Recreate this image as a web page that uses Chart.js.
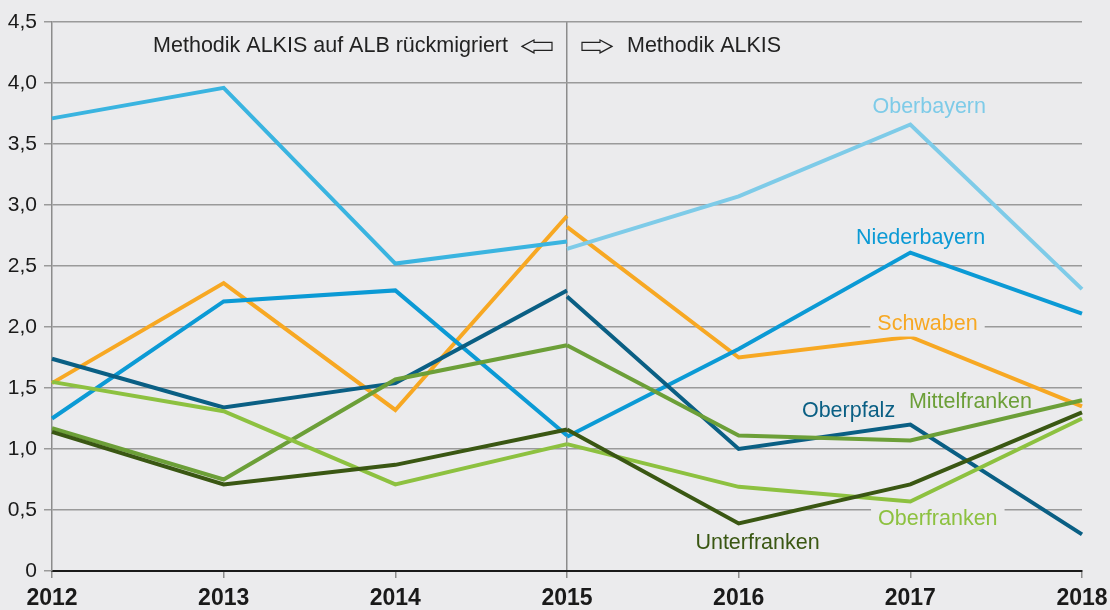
<!DOCTYPE html>
<html>
  <head>
    <meta charset="utf-8">
    <style type="text/css">
      html, body { margin: 0; padding: 0; background: #ebebed; }
      .chart-container { width: 1110px; height: 610px; }
    </style>
  </head>
  <body>
    <script src="https://cdn.jsdelivr.net/npm/chart.js@4.4.1/dist/chart.umd.min.js"></script>

    <div class="chart-container">
      <canvas id="myChart" width="1110" height="610"></canvas>
    </div>

    <script>
      /* datas */
      const years = ['2012', '2013', '2014', '2015', '2016', '2017', '2018'];
      const yTicks = [0, 0.5, 1, 1.5, 2, 2.5, 3, 3.5, 4, 4.5];

      // 2012-2015: Methodik ALKIS auf ALB rückmigriert, 2015-2018: Methodik ALKIS
      const oberbayernOld    = [3.71, 3.96, 2.52, 2.70, null, null, null];
      const oberbayernNew    = [null, null, null, 2.64, 3.07, 3.66, 2.31];
      const niederbayernOld  = [1.25, 2.21, 2.30, 1.11, null, null, null];
      const niederbayernNew  = [null, null, null, 1.10, 1.82, 2.61, 2.11];
      const schwabenOld      = [1.54, 2.36, 1.32, 2.91, null, null, null];
      const schwabenNew      = [null, null, null, 2.82, 1.75, 1.92, 1.35];
      const oberpfalzOld     = [1.74, 1.34, 1.54, 2.30, null, null, null];
      const oberpfalzNew     = [null, null, null, 2.25, 1.00, 1.20, 0.30];
      const mittelfrankenOld = [1.17, 0.75, 1.57, 1.85, null, null, null];
      const mittelfrankenNew = [null, null, null, 1.85, 1.11, 1.07, 1.40];
      const oberfrankenOld   = [1.55, 1.31, 0.71, 1.04, null, null, null];
      const oberfrankenNew   = [null, null, null, 1.04, 0.69, 0.57, 1.25];
      const unterfrankenOld  = [1.14, 0.71, 0.87, 1.16, null, null, null];
      const unterfrankenNew  = [null, null, null, 1.16, 0.39, 0.71, 1.30];

      const seriesLabels = ['Oberbayern', 'Niederbayern', 'Schwaben', 'Oberpfalz', 'Mittelfranken', 'Oberfranken', 'Unterfranken'];

      const FONT = "'Liberation Sans', Arial, Helvetica, sans-serif";

      function line(label, data, color) {
        return {
          label: label,
          data: data,
          borderColor: color,
          borderWidth: 4,
          borderCapStyle: 'butt',
          borderJoinStyle: 'miter',
          pointRadius: 0,
          fill: false,
          tension: 0,
          spanGaps: false
        };
      }

      // inline labels: anchored in axis units (x = year index, y = value)
      const inlineLabels = [
        { text: 'Oberbayern',    color: '#7ecbe8', x: 5.11, y: 3.80, box: false },
        { text: 'Niederbayern',  color: '#0b9ad5', x: 5.06, y: 2.73, box: false },
        { text: 'Schwaben',      color: '#f7a823', x: 5.10, y: 2.02, box: true },
        { text: 'Oberpfalz',     color: '#0a5f84', x: 4.64, y: 1.31, box: false },
        { text: 'Mittelfranken', color: '#6c9f38', x: 5.35, y: 1.385, box: false },
        { text: 'Oberfranken',   color: '#8dc140', x: 5.16, y: 0.426, box: true },
        { text: 'Unterfranken',  color: '#3a5713', x: 4.11, y: 0.23, box: false }
      ];

      const labelPlugin = {
        id: 'inlineLabels',
        afterDatasetsDraw(chart) {
          const ctx = chart.ctx;
          const xs = chart.scales.x, ys = chart.scales.y;
          ctx.save();
          ctx.font = '21.5px ' + FONT;
          ctx.textBaseline = 'middle';
          ctx.textAlign = 'center';
          inlineLabels.forEach(l => {
            const px = xs.left + (xs.right - xs.left) * l.x / (years.length - 1);
            const py = ys.getPixelForValue(l.y);
            const w = ctx.measureText(l.text).width;
            if (l.box) {
              ctx.fillStyle = '#ebebed';
              ctx.fillRect(px - w / 2 - 7, py - 12, w + 14, 24);
            }
            ctx.fillStyle = l.color;
            ctx.fillText(l.text, px, py);
          });

          // method headings around the 2015 divider
          const divX = xs.getPixelForValue(3);
          const hy = ys.getPixelForValue(4.30);
          ctx.fillStyle = '#222';
          ctx.textAlign = 'right';
          ctx.fillText('Methodik ALKIS auf ALB rückmigriert', divX - 59, hy);
          ctx.textAlign = 'left';
          ctx.fillText('Methodik ALKIS', divX + 60, hy);

          // hollow arrows
          ctx.strokeStyle = '#222';
          ctx.lineWidth = 1.2;
          ctx.fillStyle = '#ebebed';
          function arrow(x0, dir) {
            // x0 = tip, dir = +1 points right, -1 points left
            const L = 30, head = 12, hh = 6.5, sh = 4;
            ctx.beginPath();
            ctx.moveTo(x0, hy);
            ctx.lineTo(x0 - dir * head, hy - hh);
            ctx.lineTo(x0 - dir * head, hy - sh);
            ctx.lineTo(x0 - dir * L, hy - sh);
            ctx.lineTo(x0 - dir * L, hy + sh);
            ctx.lineTo(x0 - dir * head, hy + sh);
            ctx.lineTo(x0 - dir * head, hy + hh);
            ctx.closePath();
            ctx.fill();
            ctx.stroke();
          }
          arrow(divX - 45, -1);
          arrow(divX + 45, 1);
          ctx.restore();
        }
      };

      const myChart = new Chart('myChart', {
        type: 'line',
        data: {
          labels: years,
          datasets: [
            line(seriesLabels[6] + ' alt', unterfrankenOld, '#3a5713'),
            line(seriesLabels[6], unterfrankenNew, '#3a5713'),
            line(seriesLabels[5] + ' alt', oberfrankenOld, '#8dc140'),
            line(seriesLabels[5], oberfrankenNew, '#8dc140'),
            line(seriesLabels[4] + ' alt', mittelfrankenOld, '#6c9f38'),
            line(seriesLabels[4], mittelfrankenNew, '#6c9f38'),
            line(seriesLabels[3] + ' alt', oberpfalzOld, '#0a5f84'),
            line(seriesLabels[3], oberpfalzNew, '#0a5f84'),
            line(seriesLabels[1] + ' alt', niederbayernOld, '#0b9ad5'),
            line(seriesLabels[1], niederbayernNew, '#0b9ad5'),
            line(seriesLabels[0] + ' alt', oberbayernOld, '#3ab4e0'),
            line(seriesLabels[0], oberbayernNew, '#7ecbe8'),
            line(seriesLabels[2] + ' alt', schwabenOld, '#f7a823'),
            line(seriesLabels[2], schwabenNew, '#f7a823')
          ]
        },
        options: {
          responsive: false,
          animation: false,
          layout: { padding: { top: 22, right: 28, left: 0, bottom: 0 } },
          plugins: {
            legend: { display: false },
            tooltip: { enabled: false }
          },
          scales: {
            x: {
              offset: false,
              afterFit: s => { s.height = 39; s.paddingLeft = 0; s.paddingRight = 0; },
              border: { display: true, color: '#1a1a1a', width: 2 },
              grid: {
                color: c => (c.index === 3 ? '#8c8c8c' : 'rgba(0,0,0,0)'),
                lineWidth: 1.5,
                tickColor: '#8c8c8c',
                tickLength: 7
              },
              ticks: {
                color: '#1a1a1a',
                padding: 7,
                maxRotation: 0,
                font: { family: FONT, size: 23, weight: 'bold' }
              }
            },
            y: {
              min: 0,
              max: 4.5,
              afterFit: s => { s.width = 52; s.paddingTop = 0; s.paddingBottom = 0; },
              afterBuildTicks: s => { s.ticks = yTicks.map(v => ({ value: v })); },
              border: { display: true, color: '#8c8c8c', width: 1.5 },
              grid: {
                color: c => (c.tick && c.tick.value === 0 ? 'rgba(0,0,0,0)' : '#9a9a9a'),
                lineWidth: 1.5,
                tickColor: '#9a9a9a',
                tickLength: 8
              },
              ticks: {
                color: '#1a1a1a',
                padding: 7,
                font: { family: FONT, size: 21 },
                callback: v => (v === 0 ? '0' : v.toFixed(1).replace('.', ','))
              }
            }
          }
        },
        plugins: [labelPlugin]
      });
    </script>
  </body>
</html>
